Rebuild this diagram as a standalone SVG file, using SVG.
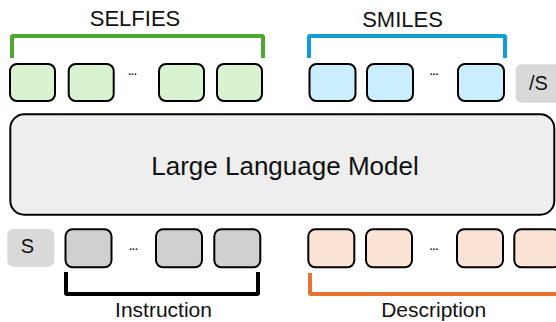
<svg xmlns="http://www.w3.org/2000/svg" width="556" height="322" viewBox="0 0 556 322">
<style>
text{font-family:"Liberation Sans",Arial,sans-serif;fill:#111;}
.lbl{font-size:22px;text-anchor:middle;}
.tok{stroke:#000;stroke-width:2;}
.g{fill:#d9f2d0;}
.b{fill:#caeefb;}
.gr{fill:#d0d0d0;}
.p{fill:#fbe3d6;}
.sp{fill:#d9d9d9;}
.dots{font-size:10px;font-weight:bold;text-anchor:middle;}
.br{fill:none;stroke-width:4;stroke-linejoin:round;stroke-linecap:butt;}
</style>
<rect width="556" height="322" fill="#fff"/>
<g id="connectors">
<path class="br" stroke="#4ea72e" d="M12,58 V37 Q12,36 13,36 H262 Q263,36 263,37 V58"/>
<path class="br" stroke="#0f9ed5" d="M309,58 V37 Q309,36 310,36 H504 Q505,36 505,37 V58"/>
<path class="br" stroke="#000" d="M66,272 V293 Q66,294 67,294 H257 Q258,294 258,293 V272"/>
<path class="br" stroke="#e97132" d="M310,273 V293 Q310,294 311,294 H560"/>
</g>
<g id="llm">
<rect x="10.3" y="114.3" width="544" height="100.4" rx="14" fill="#eeeeee" stroke="#000" stroke-width="2"/>
<text x="285" y="175" font-size="26" text-anchor="middle">Large Language Model</text>
</g>
<g id="selfies">
<rect class="tok g" x="10" y="64" width="45" height="37" rx="7"/>
<rect class="tok g" x="68.7" y="64" width="45" height="37" rx="7"/>
<text class="dots" x="132.5" y="75">...</text>
<rect class="tok g" x="159" y="64" width="45" height="37" rx="7"/>
<rect class="tok g" x="217" y="64" width="45" height="37" rx="7"/>
<text class="lbl" x="135" y="26">SELFIES</text>
</g>
<g id="smiles">
<rect class="tok b" x="309.5" y="64" width="46" height="37" rx="7"/>
<rect class="tok b" x="367" y="64" width="46" height="37" rx="7"/>
<text class="dots" x="434" y="75">...</text>
<rect class="tok b" x="458" y="64" width="46" height="37" rx="7"/>
<text class="lbl" x="402.5" y="27">SMILES</text>
</g>
<g id="end-token">
<rect class="sp" x="515.7" y="64.3" width="50" height="38.4" rx="6"/>
<text x="538.5" y="89.5" font-size="20" text-anchor="middle">/S</text>
</g>
<g id="start-token">
<rect class="sp" x="7.3" y="229" width="47" height="37.7" rx="6"/>
<text x="27.5" y="253" font-size="20" text-anchor="middle">S</text>
</g>
<g id="instruction">
<rect class="tok gr" x="65.5" y="229.3" width="46" height="38" rx="7"/>
<text class="dots" x="133.5" y="250">...</text>
<rect class="tok gr" x="156" y="229.3" width="46" height="38" rx="7"/>
<rect class="tok gr" x="214.3" y="229.3" width="46" height="38" rx="7"/>
<text class="lbl" x="163.5" y="317" font-size="21" style="font-size:21px">Instruction</text>
</g>
<g id="description">
<rect class="tok p" x="308.3" y="229.3" width="46" height="38" rx="7"/>
<rect class="tok p" x="366" y="229.3" width="46" height="38" rx="7"/>
<text class="dots" x="434" y="250">...</text>
<rect class="tok p" x="457" y="229.3" width="46" height="38" rx="7"/>
<rect class="tok p" x="514.3" y="229.3" width="46" height="38" rx="7"/>
<text class="lbl" x="433.7" y="317" style="font-size:21px">Description</text>
</g>
</svg>
